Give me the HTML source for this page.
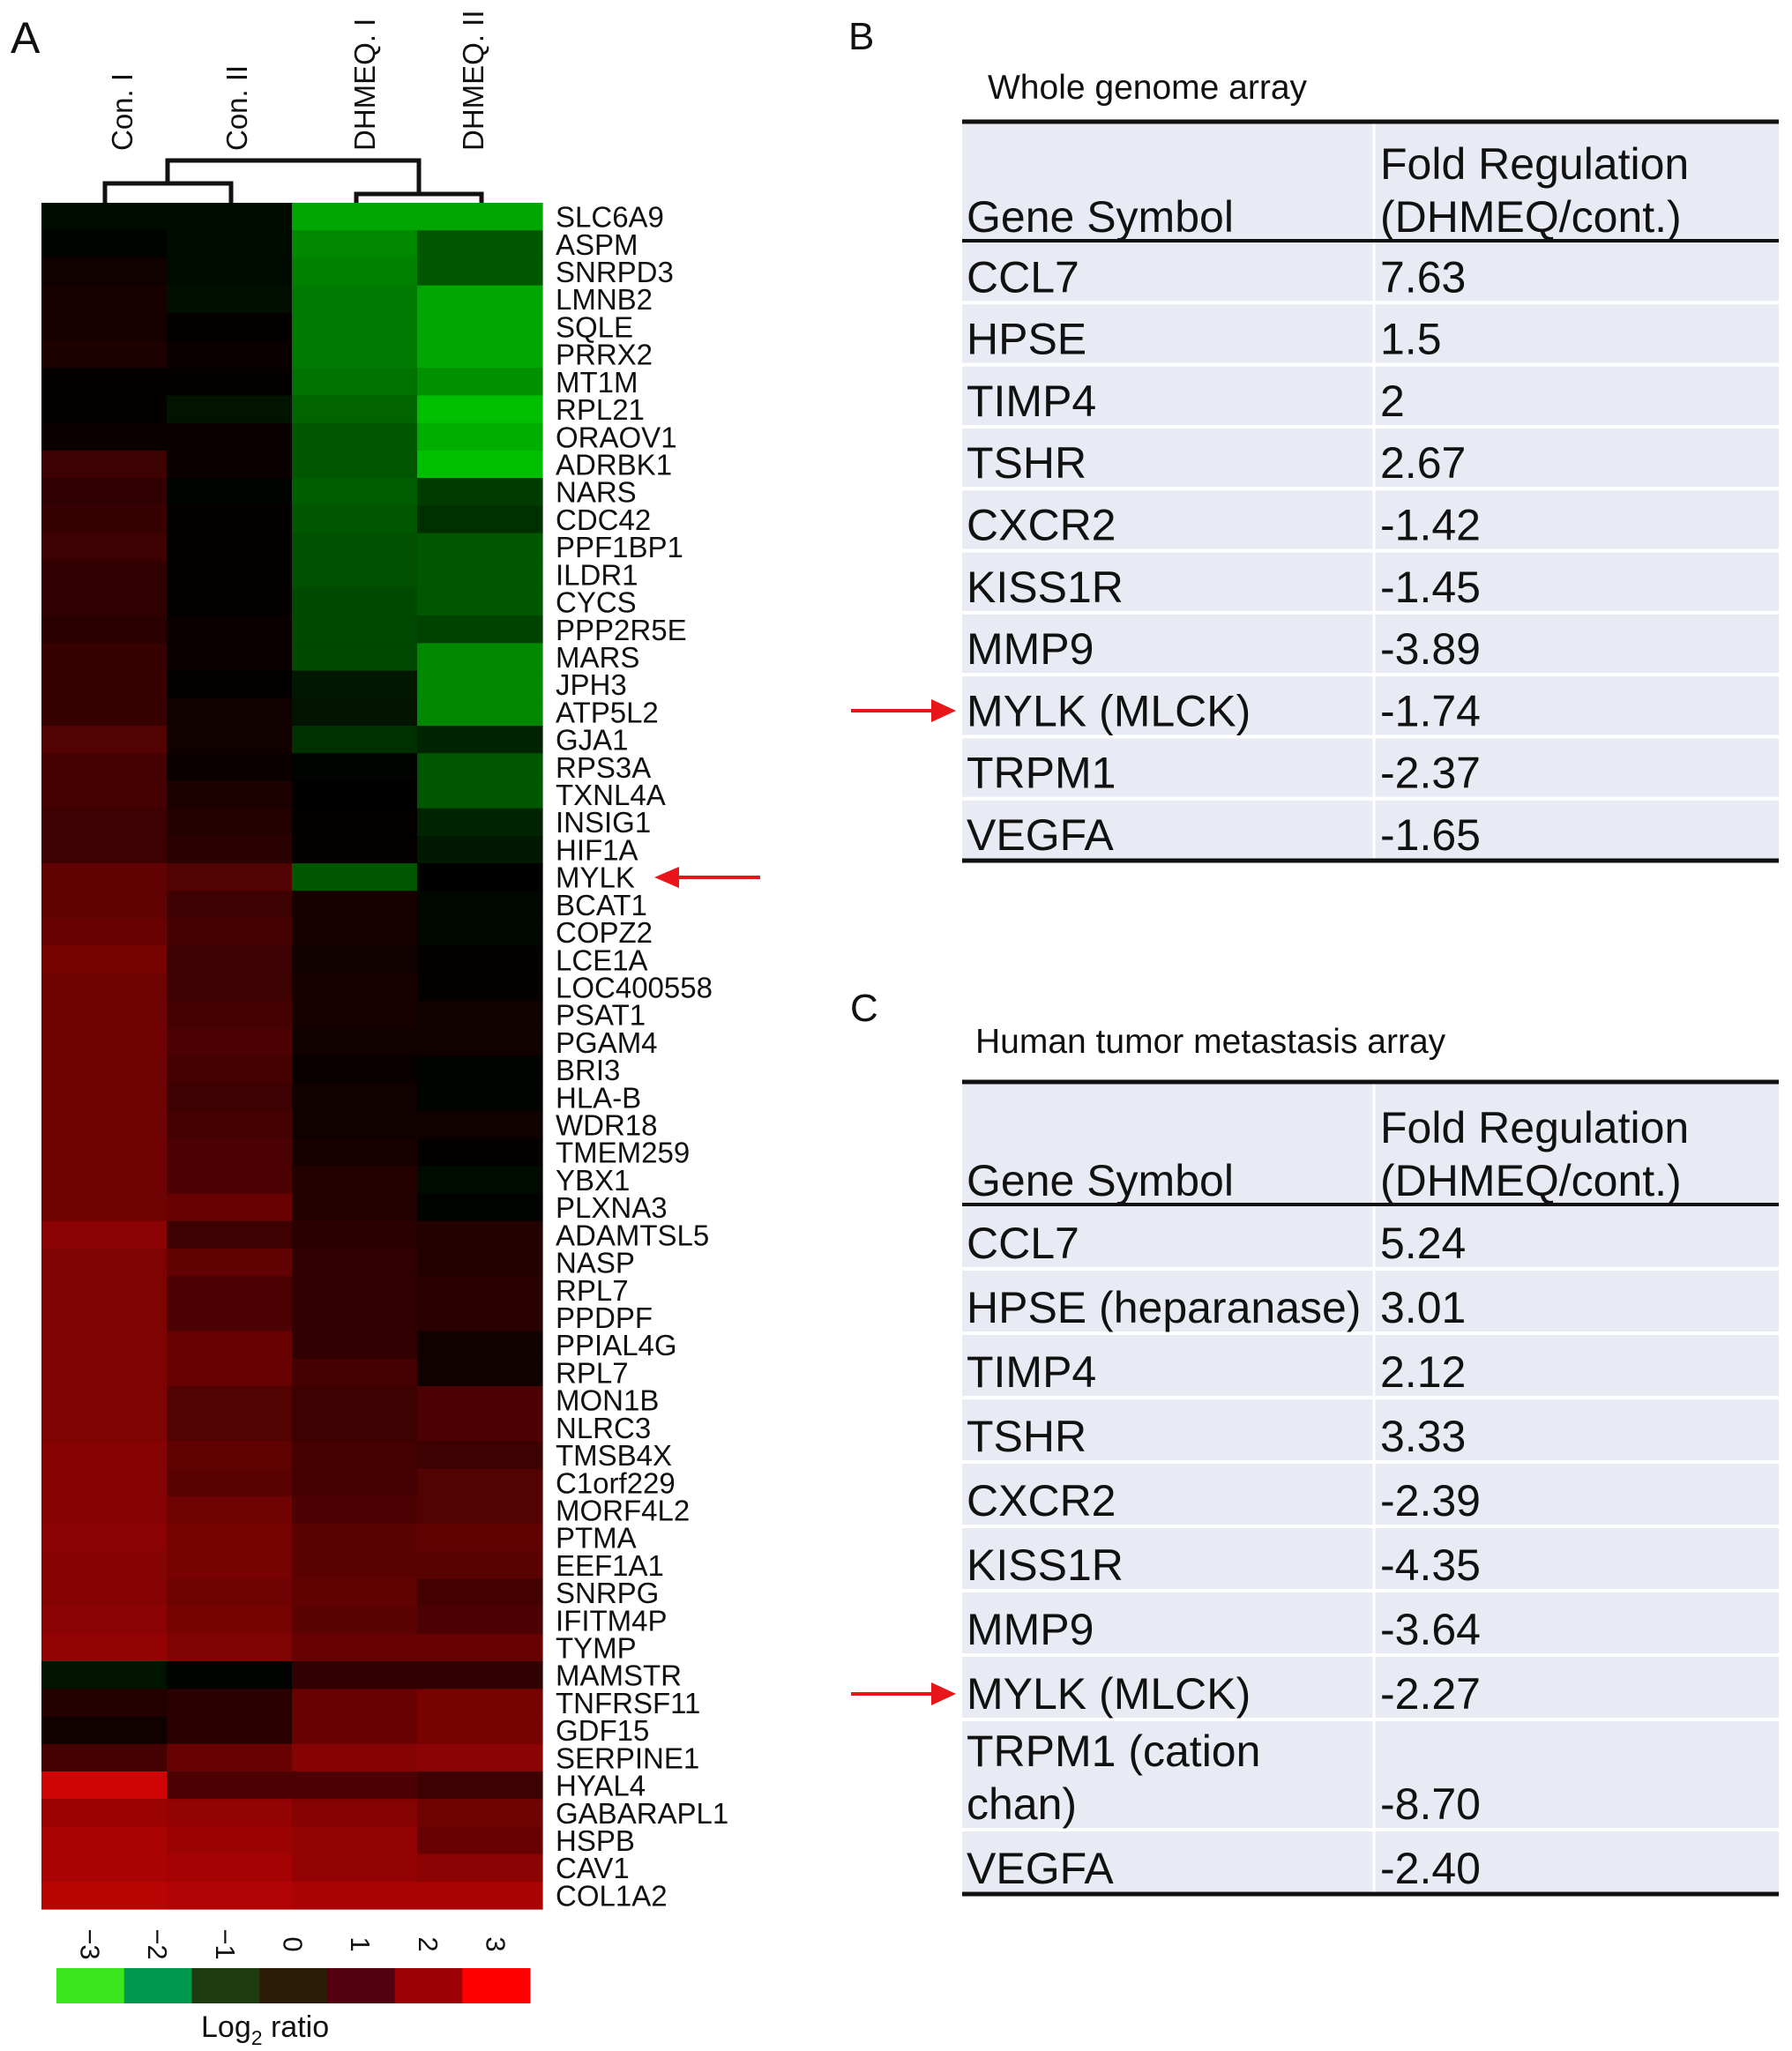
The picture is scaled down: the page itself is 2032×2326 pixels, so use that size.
<!DOCTYPE html>
<html><head><meta charset="utf-8">
<style>
html,body{margin:0;padding:0;background:#fff;}
svg{display:block;}
text{font-family:"Liberation Sans",Arial,sans-serif;fill:#111;}
</style></head>
<body>
<svg id="fig" width="2032" height="2326" viewBox="0 0 2032 2326" xmlns="http://www.w3.org/2000/svg">
<text x="12" y="60" font-size="50">A</text>
<text x="962" y="56" font-size="44">B</text>
<text x="964" y="1158" font-size="44">C</text>
<text x="1120" y="112" font-size="39">Whole genome array</text>
<text x="1106" y="1194" font-size="39">Human tumor metastasis array</text>
<g id="dendro" stroke="#111" stroke-width="5" fill="none">
<path d="M119 230 V208 H262 V230"/>
<path d="M404 230 V220 H546 V230"/>
<path d="M190 208 V182 H475 V220"/>
</g>
<g id="heat"></g>
<g id="rowlabels"></g>
<g id="collabels"></g>
<g id="legend"></g>
<g id="tables"></g>
<g>
<line x1="862" y1="995" x2="765" y2="995" stroke="#e8161b" stroke-width="4"/>
<polygon points="742,995 770,983 770,1007" fill="#e8161b"/>
</g>
<g>
<line x1="965" y1="806" x2="1060" y2="806" stroke="#e8161b" stroke-width="4"/>
<polygon points="1084,806 1056,793 1056,819" fill="#e8161b"/>
</g>
<g>
<line x1="965" y1="1921" x2="1060" y2="1921" stroke="#e8161b" stroke-width="4"/>
<polygon points="1084,1921 1056,1908 1056,1934" fill="#e8161b"/>
</g>
</svg>
<script>
const genes=["SLC6A9","ASPM","SNRPD3","LMNB2","SQLE","PRRX2","MT1M","RPL21","ORAOV1","ADRBK1","NARS","CDC42","PPF1BP1","ILDR1","CYCS","PPP2R5E","MARS","JPH3","ATP5L2","GJA1","RPS3A","TXNL4A","INSIG1","HIF1A","MYLK","BCAT1","COPZ2","LCE1A","LOC400558","PSAT1","PGAM4","BRI3","HLA-B","WDR18","TMEM259","YBX1","PLXNA3","ADAMTSL5","NASP","RPL7","PPDPF","PPIAL4G","RPL7","MON1B","NLRC3","TMSB4X","C1orf229","MORF4L2","PTMA","EEF1A1","SNRPG","IFITM4P","TYMP","MAMSTR","TNFRSF11","GDF15","SERPINE1","HYAL4","GABARAPL1","HSPB","CAV1","COL1A2"];
const samples=["Con. I","Con. II","DHMEQ. I","DHMEQ. II"];
const conI=[-0.3,-0.1,0.3,0.4,0.4,0.5,0.1,0.1,0.2,1.0,0.8,0.9,1.0,0.8,0.8,0.7,0.9,0.9,0.9,1.3,1.1,1.1,1.0,1.0,1.5,1.5,1.6,1.8,1.7,1.7,1.7,1.7,1.7,1.7,1.7,1.7,1.7,2.1,1.9,1.9,1.9,1.9,1.9,1.9,1.9,2.0,2.0,2.0,2.1,2.0,2.0,2.1,2.2,-0.5,0.6,0.3,1.1,3.0,2.3,2.5,2.5,2.7];
const conII=[-0.3,-0.3,-0.3,-0.4,0.1,0.2,0.1,-0.5,0.2,0.2,-0.1,0.1,0.1,0.1,0.1,0.2,0.2,0.1,0.3,0.3,0.2,0.5,0.6,0.7,1.3,1.0,1.1,1.0,1.0,1.1,1.2,1.1,1.0,1.1,1.2,1.2,1.6,1.0,1.5,1.2,1.2,1.6,1.6,1.3,1.3,1.5,1.4,1.7,1.8,1.8,1.7,1.8,1.9,-0.1,0.7,0.7,1.6,1.2,2.2,2.3,2.4,2.6];
const dhmeqI=[-2.7,-2.3,-2.2,-2.1,-2.1,-2.1,-2.0,-1.8,-1.6,-1.6,-1.7,-1.6,-1.5,-1.5,-1.4,-1.4,-1.4,-0.6,-0.5,-1.0,-0.1,0.0,0.1,0.1,-1.6,0.4,0.4,0.3,0.4,0.4,0.3,0.2,0.3,0.3,0.4,0.6,0.6,0.7,0.8,0.8,0.8,0.8,1.1,1.0,1.0,1.1,1.1,1.2,1.4,1.4,1.5,1.4,1.6,0.8,1.6,1.6,2.0,1.2,2.0,2.2,2.2,2.5];
const dhmeqII=[-2.7,-1.6,-1.6,-2.7,-2.7,-2.7,-2.4,-3.0,-2.8,-3.2,-1.2,-1.0,-1.6,-1.6,-1.6,-1.3,-2.3,-2.3,-2.3,-0.8,-1.6,-1.6,-0.8,-0.6,0.0,-0.2,-0.2,0.1,0.1,0.3,0.3,-0.1,-0.1,0.3,0.1,-0.3,-0.1,0.6,0.6,0.7,0.7,0.3,0.3,1.2,1.2,1.0,1.3,1.3,1.5,1.4,1.1,1.2,1.6,0.8,1.8,1.8,2.1,1.0,1.7,1.6,2.1,2.5];
const legendTicks=["\u22123","\u22122","\u22121","0","1","2","3"];
const legendColors=["#3ce61c","#009a4e","#1c3c10","#2c1c08","#520012","#9c0204","#ff0000"];
const tableBGenes=["CCL7","HPSE","TIMP4","TSHR","CXCR2","KISS1R","MMP9","MYLK (MLCK)","TRPM1","VEGFA"];
const tableBValues=["7.63","1.5","2","2.67","-1.42","-1.45","-3.89","-1.74","-2.37","-1.65"];
const tableCGenes=["CCL7","HPSE (heparanase)","TIMP4","TSHR","CXCR2","KISS1R","MMP9","MYLK (MLCK)","TRPM1 (cation|chan)","VEGFA"];
const tableCValues=["5.24","3.01","2.12","3.33","-2.39","-4.35","-3.64","-2.27","-8.70","-2.40"];

const NS="http://www.w3.org/2000/svg";
function mk(tag,attrs,parent){const e=document.createElementNS(NS,tag);for(const k in attrs)e.setAttribute(k,attrs[k]);parent.appendChild(e);return e;}
const HX0=47,HX1=615,HY0=230,HY1=2165;
const colW=(HX1-HX0)/samples.length, rowH=(HY1-HY0)/genes.length;
const xCol=i=>HX0+i*colW, yRow=i=>HY0+i*rowH;
function color(v){
  if(v>=0){const r=Math.round(Math.pow(Math.min(1,v/3),1.1)*208);return `rgb(${r},${Math.round(r*0.02)},${Math.round(r*0.02)})`;}
  const g=Math.round(Math.pow(Math.min(1,-v/3),1.25)*190);return `rgb(0,${g},0)`;
}
const series=[conI,conII,dhmeqI,dhmeqII];
const heat=document.getElementById('heat');
series.forEach((arr,c)=>{arr.forEach((v,r)=>{
  const rc=mk('rect',{x:xCol(c),y:yRow(r),width:colW+0.6,height:rowH+0.6,fill:color(v)},heat);
  
  
});});
const rl=document.getElementById('rowlabels');
genes.forEach((g,r)=>{
  const t=mk('text',{x:630,y:yRow(r)+rowH*0.5+12,'font-size':33},rl);
  t.textContent=g;
  
  
});
const cl=document.getElementById('collabels');
const colLabelX=[150,280,425,548];
samples.forEach((s,i)=>{
  const t=mk('text',{x:0,y:0,'font-size':33,transform:`translate(${colLabelX[i]},171) rotate(-90)`},cl);
  t.textContent=s;
  
  
});
const lg=document.getElementById('legend');
const LX0=64,LX1=601,lw=(LX1-LX0)/legendColors.length;
legendColors.forEach((c,i)=>{
  const r=mk('rect',{x:LX0+i*lw,y:2232,width:lw+0.5,height:40,fill:c},lg);
  
  
  const t=mk('text',{x:0,y:0,'font-size':31,'text-anchor':'middle',transform:`translate(${LX0+(i+0.5)*lw-11},2205) rotate(90)`},lg);
  t.textContent=legendTicks[i];
  
  
});
const lt=mk('text',{x:228,y:2310,'font-size':34},lg);


lt.innerHTML='Log<tspan font-size="23" dy="9">2</tspan><tspan dy="-9"> ratio</tspan>';

const tg=document.getElementById('tables');
function table(top,headBottom,rowHeights,gNames,vals,name){
  const X0=1091,X1=2017,XC=1558;
  const g=mk('g',{},tg);
  
  
  mk('rect',{x:X0,y:top,width:X1-X0,height:headBottom-top,fill:'#e9ebf4'},g);
  mk('line',{x1:XC,y1:top,x2:XC,y2:headBottom,stroke:'#fff','stroke-width':3},g);
  const h1=mk('text',{x:1096,y:headBottom-10,'font-size':50},g);h1.textContent='Gene Symbol';
  const h2=mk('text',{x:1565,y:headBottom-70,'font-size':50},g);h2.textContent='Fold Regulation';
  const h3=mk('text',{x:1565,y:headBottom-10,'font-size':50},g);h3.textContent='(DHMEQ/cont.)';
  let y=headBottom;
  gNames.forEach((n,i)=>{
    const h=rowHeights[i];
    const r=mk('rect',{x:X0,y:y+2,width:X1-X0,height:h-4,fill:'#e9ebf4'},g);
    
    
    mk('line',{x1:XC,y1:y,x2:XC,y2:y+h,stroke:'#fff','stroke-width':3},g);
    const parts=n.split('|');
    parts.forEach((p,k)=>{
      const t=mk('text',{x:1096,y:y+h-12-(parts.length-1-k)*60,'font-size':50},g);
      t.textContent=p;
      
      
    });
    const tv=mk('text',{x:1565,y:y+h-12,'font-size':50},g);
    tv.textContent=vals[i];
    
    
    y+=h;
  });
  mk('line',{x1:X0,y1:top,x2:X1,y2:top,stroke:'#111','stroke-width':5},g);
  mk('line',{x1:X0,y1:headBottom,x2:X1,y2:headBottom,stroke:'#111','stroke-width':4},g);
  mk('line',{x1:X0,y1:y,x2:X1,y2:y,stroke:'#111','stroke-width':5},g);
}
table(138,273,Array(10).fill(70.3),tableBGenes,tableBValues,'table-whole-genome');
table(1227,1366,[73,73,73,73,73,73,73,73,125,73],tableCGenes,tableCValues,'table-metastasis');
</script>
</body></html>
